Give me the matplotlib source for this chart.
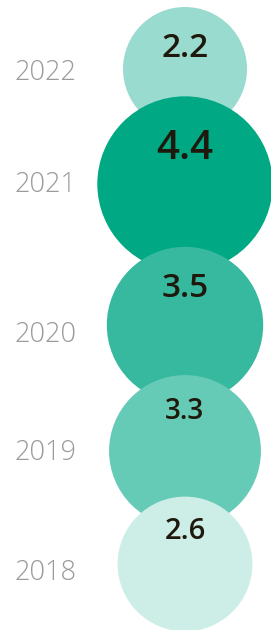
import numpy as np
import matplotlib
matplotlib.use("Agg")
import matplotlib.pyplot as plt
from matplotlib.patches import Circle

# ---- data ----
years = ["2022", "2021", "2020", "2019", "2018"]
values = [2.2, 4.4, 3.5, 3.3, 2.6]
value_labels = ["2.2", "4.4", "3.5", "3.3", "2.6"]

# ---- style / layout ----
colors = ["#99dbce", "#00a884", "#36b99f", "#66cbb6", "#cdeee6"]
value_fontsizes = [24, 29, 24, 20, 21]
center_y = [69, 184, 325, 451, 564]
value_baseline_offset = [12.3, 25, 28.3, 32, 25]
year_baseline = [80.5, 192, 342, 460, 580]
center_x = 185
radius_scale = 41.8  # pixels per sqrt(unit)

plt.rcParams['font.family'] = ['Open Sans', 'DejaVu Sans']

fig = plt.figure(figsize=(2.71, 6.30), dpi=100)
ax = fig.add_axes([0, 0, 1, 1])
ax.set_xlim(0, 271)
ax.set_ylim(630, 0)
ax.set_aspect('equal')
ax.axis('off')

for i, (yr, v, lab) in enumerate(zip(years, values, value_labels)):
    r = radius_scale * np.sqrt(v)
    ax.add_patch(Circle((center_x, center_y[i]), r, facecolor=colors[i],
                        edgecolor='none', zorder=i + 1))
    ax.text(center_x, center_y[i] - value_baseline_offset[i], lab,
            ha='center', va='baseline', fontsize=value_fontsizes[i],
            fontweight='semibold', color='#1f180c', zorder=10)
    ax.text(14, year_baseline[i], yr, ha='left', va='baseline',
            fontsize=19.5, fontweight='light', color='#9a9a9a', zorder=10)

fig.savefig("out.png", dpi=100)
